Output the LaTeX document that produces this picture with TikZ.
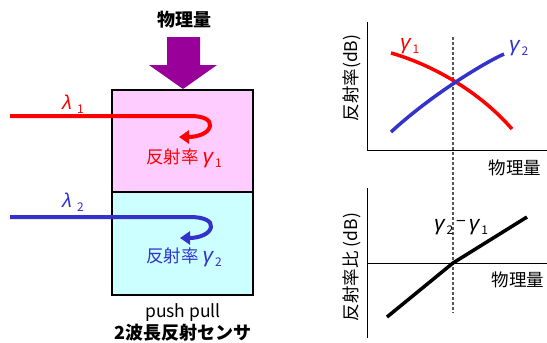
\documentclass[tikz,border=0pt]{standalone}
\usepackage{fontspec}
\setmainfont{Noto Sans CJK JP}
\newfontfamily\grk{Liberation Sans}
\usetikzlibrary{arrows.meta}
\definecolor{lred}{HTML}{FF0000}
\definecolor{lblue}{HTML}{3333CC}
\definecolor{lpurple}{HTML}{990099}
\definecolor{lpink}{HTML}{FFCCFF}
\definecolor{lcyan}{HTML}{CCFFFF}
\definecolor{dgray}{HTML}{555555}
\newcommand{\gsub}[1]{{\grk\itshape\fontsize{21}{24}\selectfont γ}\hspace{2pt}\raisebox{-0.45ex}{\fontsize{12}{14}\selectfont #1}}
\newcommand{\lsub}[1]{{\grk\itshape\fontsize{20}{24}\selectfont λ}\hspace{5pt}\raisebox{-0.45ex}{\fontsize{12}{14}\selectfont #1}}
\begin{document}
\begin{tikzpicture}[x=1pt,y=-1pt,
  lbl/.style={inner sep=0pt,font=\fontsize{17.5}{20}\selectfont},
  blbl/.style={inner sep=0pt,font=\bfseries\fontsize{18}{21}\selectfont},
  cell/.style={draw=black,line width=2pt,minimum width=141pt,inner sep=0pt},
  beam/.style={line width=4pt,-{Triangle[length=10pt,width=13pt]}},
  curve/.style={line width=3.5pt},
  axis/.style={line width=1pt,black}]
\useasboundingbox (0,0) rectangle (547,343);
% left part
\node[blbl] (title) at (184,20) {物理量};
\fill[lpurple] (167,37) -- (200,37) -- (200,65) -- (217,65) -- (183,89) -- (149,65) -- (167,65) -- cycle;
\node[cell,fill=lpink,minimum height=102pt] (top) at (182.5,141) {};
\node[cell,fill=lcyan,minimum height=103pt] (bot) at (182.5,243.5) {};
\coordinate (r0) at (10,116);
\coordinate (b0) at (10,217);
\draw[beam,lred] (r0) -- (190,116) .. controls (204,116) and (211,120) .. (210,126) .. controls (209,133) and (198,137) .. (179,137);
\draw[beam,lblue] (b0) -- (190,217) .. controls (204,217) and (212,221) .. (211,227) .. controls (210,234) and (199,238) .. (180,238);
\node[lbl,text=lred,anchor=west] (l1) at (62,104) {\lsub{1}};
\node[lbl,text=lblue,anchor=west] (l2) at (62,202) {\lsub{2}};
\node[lbl,text=lred] (g1) at (184,158) {反射率 \gsub{1}};
\node[lbl,text=lblue] (g2) at (184,257) {反射率 \gsub{2}};
\node[lbl] (pp) at (183,313) {push pull};
\node[blbl] (sens) at (183,333) {2波長反射センサ};
% top chart
\draw[axis] (367,22) -- (367,150) -- (547,150);
\draw[dgray,line width=1.2pt,dash pattern=on 3pt off 2pt] (453,37) -- (453,313);
\draw[curve,lred] (391,53) .. controls (430,64) and (478,90) .. (512,129);
\draw[curve,lblue] (391,132) .. controls (430,96) and (482,64) .. (504,54);
\node[lbl,text=lred,anchor=west] (c1) at (400,46) {\gsub{1}};
\node[lbl,text=lblue,anchor=west] (c2) at (509,48) {\gsub{2}};
\node[lbl,rotate=90] (ya) at (352,78) {反射率(dB)};
\node[lbl] (xa) at (515,168) {物理量};
% bottom chart
\draw[axis] (367,188) -- (367,338);
\draw[axis] (367,263) -- (547,263);
\draw[line width=3.5pt,line join=round] (387,317) -- (453,263) -- (527,217);
\node[lbl,anchor=west] (d) at (434,227) {\gsub{2}\,\raisebox{0.3ex}{−}\,\gsub{1}};
\node[lbl,rotate=90] (yb) at (352,267) {反射率比 (dB)};
\node[lbl] (xb) at (518,280) {物理量};
\end{tikzpicture}
\end{document}
